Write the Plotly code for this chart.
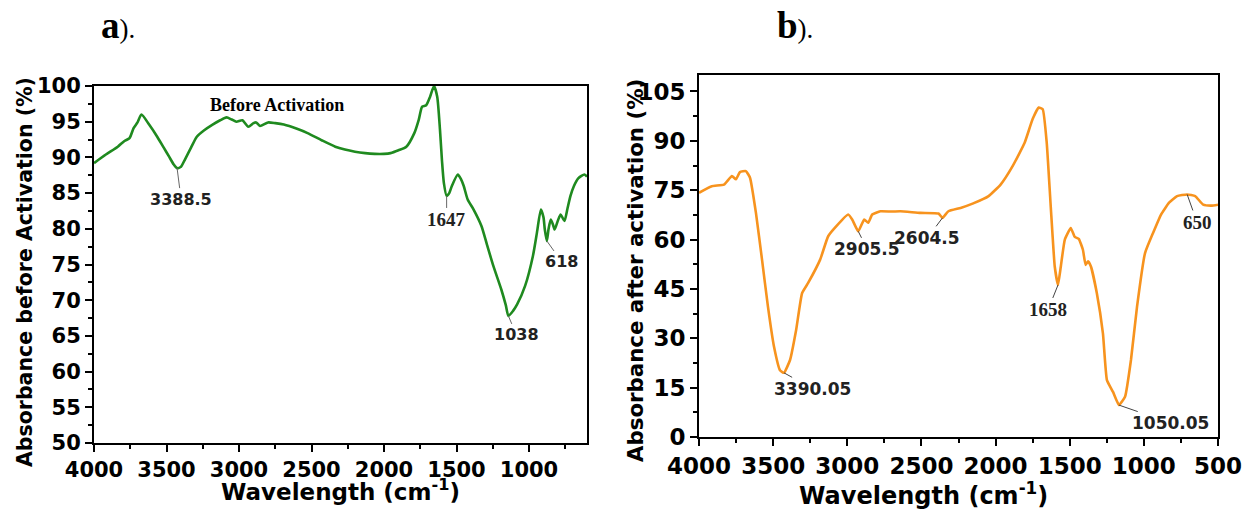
import plotly.graph_objects as go

# ---- Panel a: before activation ----
wn_before = [4000, 3918, 3836, 3790, 3755, 3727, 3700, 3673, 3620, 3564, 3520, 3482, 3450, 3427, 3400,
             3373, 3330, 3291, 3240, 3182, 3130, 3086, 3050, 3018, 2977, 2936, 2900, 2882, 2855, 2800,
             2750, 2691, 2600, 2527, 2430, 2336, 2270, 2200, 2130, 2064, 2000, 1955, 1900, 1846, 1791,
             1760, 1737, 1709, 1682, 1655, 1633, 1614, 1600, 1587, 1568, 1550, 1532, 1491, 1470, 1450,
             1423, 1382, 1328, 1290, 1246, 1191, 1160, 1142, 1110, 1082, 1027, 973, 945, 918, 900,
             891, 877, 865, 850, 835, 823, 800, 782, 770, 755, 735, 714, 690, 659, 618, 600]
abs_before = [89.2, 90.4, 91.5, 92.3, 92.7, 94.1, 94.9, 96.0, 94.6, 92.9, 91.4, 90.1, 89.0, 88.5, 88.7,
              89.7, 91.4, 92.9, 93.8, 94.6, 95.2, 95.6, 95.3, 95.0, 95.2, 94.3, 94.8, 94.9, 94.4, 94.9,
              94.8, 94.6, 94.0, 93.4, 92.4, 91.5, 91.1, 90.8, 90.6, 90.5, 90.5, 90.6, 91.0, 91.5, 93.4,
              95.3, 97.1, 97.3, 98.5, 100.0, 98.5, 93.9, 89.5, 86.4, 84.6, 85.0, 86.0, 87.6, 87.0, 86.0,
              84.1, 82.7, 80.4, 77.8, 74.8, 71.5, 69.3, 67.8, 68.5, 69.4, 72.0, 76.2, 79.5, 82.7, 81.6,
              79.9, 78.3, 80.0, 81.3, 80.6, 79.9, 81.2, 82.0, 81.6, 81.1, 82.8, 84.6, 86.0, 87.1, 87.6, 87.3]

# ---- Panel b: after activation ----
wn_after = [4000, 3913, 3832, 3778, 3751, 3724, 3684, 3656, 3616, 3575, 3535, 3494, 3454, 3427, 3386,
            3345, 3305, 3264, 3183, 3129, 3075, 2994, 2967, 2926, 2886, 2859, 2832, 2777, 2700, 2642,
            2507, 2385, 2358, 2318, 2236, 2155, 2047, 1966, 1885, 1804, 1750, 1709, 1682, 1655, 1628,
            1601, 1579, 1560, 1533, 1493, 1466, 1439, 1411, 1393, 1376, 1357, 1317, 1276, 1249, 1208,
            1168, 1127, 1087, 1046, 992, 938, 884, 830, 776, 708, 654, 600, 546, 500]
abs_after = [74.2, 76.2, 76.7, 79.3, 78.3, 80.5, 80.8, 78.8, 68.1, 53.9, 39.6, 27.4, 20.3, 19.5, 23.4,
             32.5, 43.7, 46.8, 53.9, 61.0, 64.0, 67.6, 66.1, 62.5, 66.1, 65.1, 67.6, 68.6, 68.5, 68.6,
             68.1, 67.9, 66.6, 68.6, 69.6, 70.9, 73.2, 76.7, 82.3, 89.4, 96.6, 100.1, 99.6, 89.4, 70.1,
             51.8, 46.2, 51.8, 60.0, 63.5, 60.8, 60.2, 56.9, 52.3, 53.4, 51.8, 43.7, 31.5, 17.3, 13.7,
             9.7, 12.2, 23.4, 39.6, 55.9, 62.0, 67.6, 71.2, 73.2, 73.7, 73.2, 70.6, 70.3, 70.6]

# peak labels: (text, x, y, ax, ay, serif)
peaks_before = [("3388.5", 3427, 88.5, 4, 31, False),
                ("1647", 1568, 84.6, 0, 24, True),
                ("1038", 1142, 67.8, 8, 19, False),
                ("618", 877, 78.3, 15, 21, False)]
peaks_after = [("3390.05", 3427, 19.5, 29, 16, False),
               ("2905.5", 2926, 62.5, 9, 18, False),
               ("2604.5", 2358, 66.6, -15, 20, False),
               ("1658", 1579, 46.2, -10, 25, True),
               ("1050.05", 1168, 9.7, 52, 18, False),
               ("650", 708, 73.7, 10, 28, True)]

SANS = "DejaVu Sans"
SERIF = "Liberation Serif"

# page body has an 8px margin: the figure is placed/sized to compensate
OFF = 8
W, H = 1250 - OFF, 509 - OFF


def px(X):
    return (X - OFF) / W


def py(Y):
    return 1 - (Y - OFF) / H


fig = go.Figure()
fig.add_trace(go.Scatter(x=wn_before, y=abs_before, mode="lines", xaxis="x", yaxis="y",
                         line=dict(color="#1f8a1f", width=2.6, shape="spline", smoothing=0.6),
                         showlegend=False))
fig.add_trace(go.Scatter(x=wn_after, y=abs_after, mode="lines", xaxis="x2", yaxis="y2",
                         line=dict(color="#f7931e", width=2.6, shape="spline", smoothing=0.4),
                         showlegend=False))


def axis_common():
    return dict(showline=True, linecolor="black", linewidth=2, mirror=True,
                ticks="outside", ticklen=7, tickwidth=2, tickcolor="black",
                showgrid=False, zeroline=False, automargin=False)


fig.update_layout(
    width=W, height=H,
    margin=dict(l=0, r=0, t=0, b=0, autoexpand=False),
    paper_bgcolor="white", plot_bgcolor="white",
    xaxis=dict(domain=[px(94), px(587)], range=[4000, 600], anchor="y",
               tickvals=[4000, 3500, 3000, 2500, 2000, 1500, 1000],
               minor=dict(tickvals=[3750, 3250, 2750, 2250, 1750, 1250, 750], ticks="outside",
                          ticklen=4, tickwidth=2, tickcolor="black"),
               tickfont=dict(family=SANS, size=21, color="black", weight="bold"),
               **axis_common()),
    yaxis=dict(domain=[py(443), py(86)], range=[50, 100], anchor="x",
               dtick=5, tick0=50,
               minor=dict(dtick=2.5, ticks="outside", ticklen=4, tickwidth=2, tickcolor="black"),
               tickfont=dict(family=SANS, size=21, color="black", weight="bold"),
               **axis_common()),
    xaxis2=dict(domain=[px(699), px(1218)], range=[4000, 500], anchor="y2",
                dtick=500, tick0=500,
                minor=dict(dtick=250, ticks="outside", ticklen=4, tickwidth=2, tickcolor="black"),
                tickfont=dict(family=SANS, size=23, color="black", weight="bold"),
                **axis_common()),
    yaxis2=dict(domain=[py(437), py(75)], range=[0, 110], anchor="x2",
                tickvals=[0, 15, 30, 45, 60, 75, 90, 105],
                minor=dict(tickvals=[7.5, 22.5, 37.5, 52.5, 67.5, 82.5, 97.5], ticks="outside",
                           ticklen=4, tickwidth=2, tickcolor="black"),
                tickfont=dict(family=SANS, size=23, color="black", weight="bold"),
                **axis_common()),
)


def paper_text(text, X, Y, font, angle=0):
    return dict(text=text, x=px(X), y=py(Y), xref="paper", yref="paper", showarrow=False,
                xanchor="center", yanchor="middle", textangle=angle, font=font)


ann = []
# panel letters
ann.append(paper_text("<b>a</b><span style='font-size:27px'>).</span>", 118, 25,
                      dict(family=SERIF, size=37, color="black")))
ann.append(paper_text("<b>b</b><span style='font-size:27px'>).</span>", 795, 25,
                      dict(family=SERIF, size=37, color="black")))
# axis titles
ann.append(paper_text("Absorbance before Activation (%)", 25, 272,
                      dict(family=SANS, size=20.5, color="black", weight="bold"), -90))
ann.append(paper_text("Absorbance after activation (%)", 635, 271,
                      dict(family=SANS, size=21.3, color="black", weight="bold"), -90))
ann.append(paper_text("Wavelength (cm<sup>-1</sup>)", 340, 490,
                      dict(family=SANS, size=23, color="black", weight="bold")))
ann.append(paper_text("Wavelength (cm<sup>-1</sup>)", 924, 494,
                      dict(family=SANS, size=24, color="black", weight="bold")))
# inner label
ann.append(dict(text="Before Activation", x=2740, y=97.4, xref="x", yref="y", showarrow=False,
                xanchor="center", yanchor="middle",
                font=dict(family=SERIF, size=18, color="black", weight="bold")))

for (t, x, y, ax, ay, serif) in peaks_before:
    ann.append(dict(text=t, x=x, y=y, xref="x", yref="y", ax=ax, ay=ay, showarrow=True,
                    arrowhead=0, arrowwidth=1, arrowcolor="#666666", standoff=0, startstandoff=0,
                    font=dict(family=SERIF if serif else SANS, size=19 if serif else 16,
                              color="#222222", weight="bold")))
for (t, x, y, ax, ay, serif) in peaks_after:
    ann.append(dict(text=t, x=x, y=y, xref="x2", yref="y2", ax=ax, ay=ay, showarrow=True,
                    arrowhead=0, arrowwidth=1, arrowcolor="#444444", standoff=0, startstandoff=0,
                    font=dict(family=SERIF if serif else SANS, size=19 if serif else 17,
                              color="#222222", weight="bold")))

fig.update_layout(annotations=ann)
fig.write_html("out.html")
